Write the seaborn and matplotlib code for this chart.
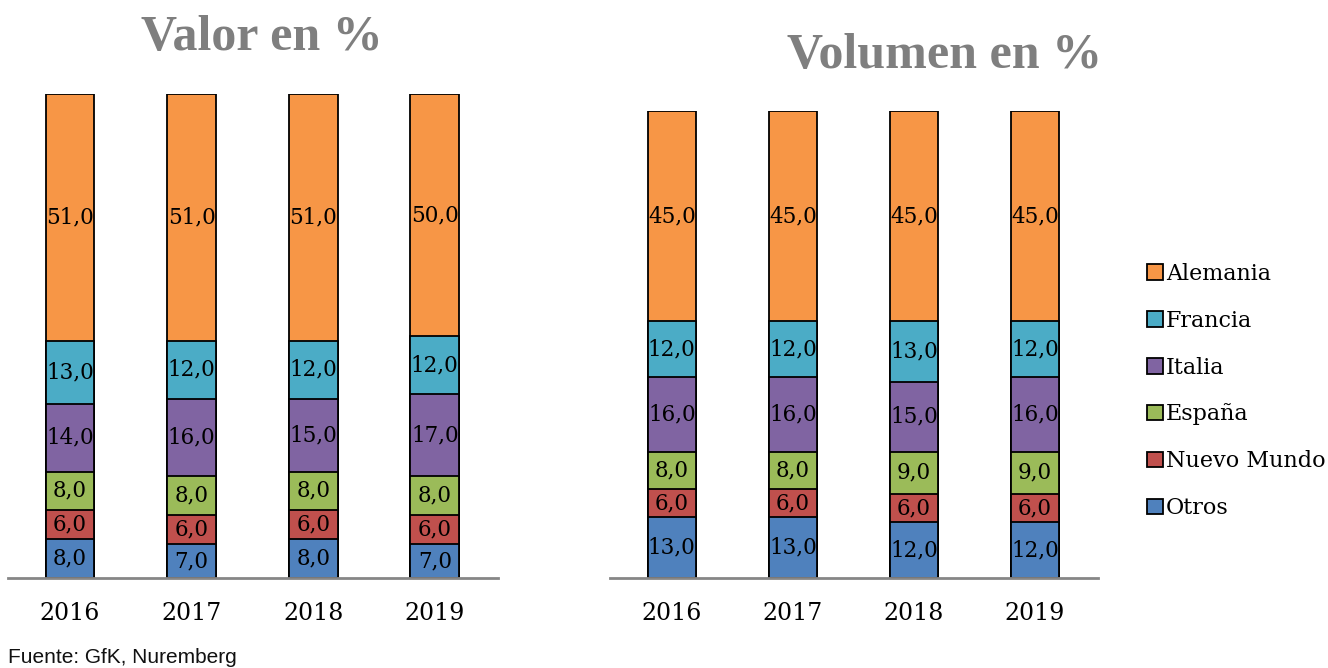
import matplotlib
matplotlib.use("Agg")
import matplotlib.pyplot as plt
import seaborn as sns
import pandas as pd
from matplotlib.patches import Patch

years = ["2016", "2017", "2018", "2019"]
series = ["Otros", "Nuevo Mundo", "España", "Italia", "Francia", "Alemania"]
colors = {
    "Otros": "#4F81BD",
    "Nuevo Mundo": "#C0504D",
    "España": "#9BBB59",
    "Italia": "#8064A2",
    "Francia": "#4BACC6",
    "Alemania": "#F79646",
}

valor_otros = [8, 7, 8, 7]
valor_nuevo_mundo = [6, 6, 6, 6]
valor_espana = [8, 8, 8, 8]
valor_italia = [14, 16, 15, 17]
valor_francia = [13, 12, 12, 12]
valor_alemania = [51, 51, 51, 50]

volumen_otros = [13, 13, 12, 12]
volumen_nuevo_mundo = [6, 6, 6, 6]
volumen_espana = [8, 8, 9, 9]
volumen_italia = [16, 16, 15, 16]
volumen_francia = [12, 12, 13, 12]
volumen_alemania = [45, 45, 45, 45]

valor = pd.DataFrame(
    {
        "Otros": valor_otros,
        "Nuevo Mundo": valor_nuevo_mundo,
        "España": valor_espana,
        "Italia": valor_italia,
        "Francia": valor_francia,
        "Alemania": valor_alemania,
    },
    index=years,
)
volumen = pd.DataFrame(
    {
        "Otros": volumen_otros,
        "Nuevo Mundo": volumen_nuevo_mundo,
        "España": volumen_espana,
        "Italia": volumen_italia,
        "Francia": volumen_francia,
        "Alemania": volumen_alemania,
    },
    index=years,
)

SERIF = ["DejaVu Serif", "Liberation Serif"]
TITLE_SERIF = ["Liberation Serif", "DejaVu Serif"]
W, H = 1328, 668


def stacked(ax, data):
    cum = data.cumsum(axis=1)
    # draw the tallest cumulative first, then overlay the smaller ones
    for name in reversed(series):
        sns.barplot(
            x=years,
            y=cum[name].values,
            color=colors[name],
            saturation=1,
            width=0.4,
            edgecolor="black",
            linewidth=1.3,
            ax=ax,
        )
    for i, year in enumerate(years):
        for name in series:
            v = data.loc[year, name]
            ax.text(
                i,
                cum.loc[year, name] - v / 2,
                f"{v:.1f}".replace(".", ","),
                ha="center",
                va="center",
                fontsize=15.5,
                family=SERIF,
                color="black",
            )
    ax.set_xlim(-0.51, 3.52)
    ax.set_ylim(0, 100)
    ax.set_yticks([])
    ax.set_ylabel("")
    for s in ["left", "right", "top"]:
        ax.spines[s].set_visible(False)
    ax.spines["bottom"].set_color("#868686")
    ax.spines["bottom"].set_linewidth(2)
    ax.tick_params(axis="x", length=0, pad=17, labelsize=17, labelcolor="black")
    for lab in ax.get_xticklabels():
        lab.set_family(SERIF)
    ax.set_facecolor("none")


sns.set_theme(style="white")
fig = plt.figure(figsize=(W / 100, H / 100), dpi=100)

ax1 = fig.add_axes([8 / W, 90 / H, 490 / W, 484 / H])
stacked(ax1, valor)
ax2 = fig.add_axes([610 / W, 90 / H, 488 / W, 467 / H])
stacked(ax2, volumen)

fig.text(262 / W, 1 - 50 / H, "Valor en %", ha="center", va="baseline",
         fontsize=36, fontweight="bold", color="#7F7F7F", family=TITLE_SERIF)
fig.text(945 / W, 1 - 68 / H, "Volumen en %", ha="center", va="baseline",
         fontsize=36, fontweight="bold", color="#7F7F7F", family=TITLE_SERIF)

handles = [Patch(facecolor=colors[n], edgecolor="black", linewidth=1.3, label=n)
           for n in reversed(series)]
leg = fig.legend(
    handles=handles,
    loc="center left",
    bbox_to_anchor=(1127 / W, 1 - 391 / H),
    frameon=False,
    handlelength=0.7,
    handleheight=0.7,
    handletextpad=0.15,
    labelspacing=1.12,
    prop={"family": SERIF, "size": 16},
    labelcolor="black",
)

fig.text(8 / W, 1 - 663 / H, "Fuente: GfK, Nuremberg", ha="left", va="baseline",
         fontsize=15, family=["Liberation Sans", "DejaVu Sans"], color="#111111")

fig.savefig("out.png", dpi=100)
